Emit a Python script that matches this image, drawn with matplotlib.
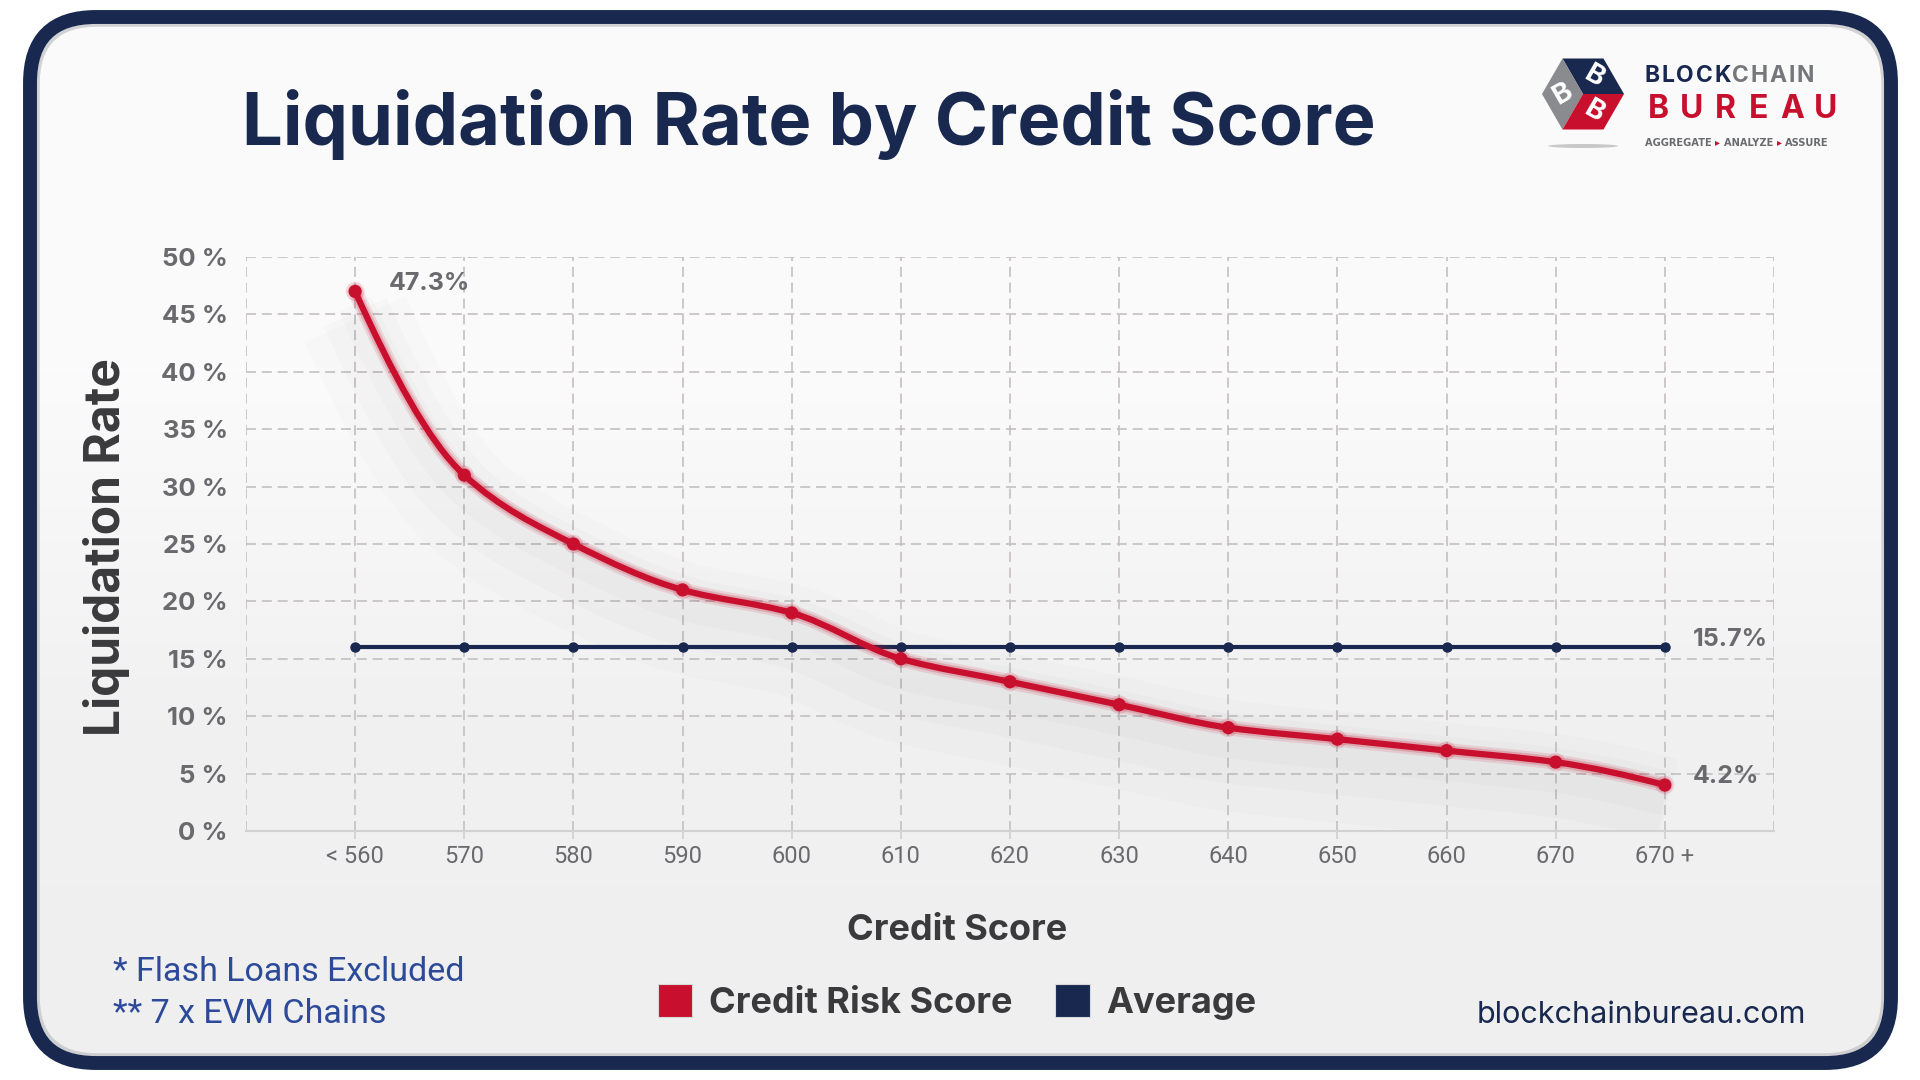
import numpy as np
import matplotlib
matplotlib.use("Agg")
import matplotlib.pyplot as plt
import matplotlib.patheffects as pe
from matplotlib.patches import FancyBboxPatch, Polygon, Rectangle, PathPatch, Ellipse
from matplotlib.path import Path

# data
categories = ["< 560", "570", "580", "590", "600", "610", "620",
              "630", "640", "650", "660", "670", "670 +"]
risk_rate = [47, 31, 25, 21, 19, 15, 13, 11, 9, 8, 7, 6, 4]
average_rate = 16
first_label = "47.3%"
last_label = "4.2%"
average_label = "15.7%"
y_ticks = [0, 5, 10, 15, 20, 25, 30, 35, 40, 45, 50]

RED = "#C8102E"
NAVY = "#18284F"
GRID = "#C4C0C2"
TICK_GRAY = "#6A6A6E"
LABEL_DARK = "#3A3A3C"
NOTE_BLUE = "#2D4A9A"

W, H = 1920, 1080


def smooth_path(xs, ys):
    # monotone cubic (Fritsch-Carlson) tangents turned into bezier segments
    xs = np.asarray(xs, float)
    ys = np.asarray(ys, float)
    h = np.diff(xs)
    d = np.diff(ys) / h
    m = np.zeros(len(xs))
    m[0] = (3 * d[0] - d[1]) / 2
    m[-1] = (3 * d[-1] - d[-2]) / 2
    for k in range(1, len(xs) - 1):
        if d[k - 1] * d[k] <= 0:
            m[k] = 0
        else:
            m[k] = 2 / (1 / d[k - 1] + 1 / d[k])
    verts = [(xs[0], ys[0])]
    codes = [Path.MOVETO]
    for k in range(len(xs) - 1):
        verts.append((xs[k] + h[k] / 3, ys[k] + m[k] * h[k] / 3))
        verts.append((xs[k + 1] - h[k] / 3, ys[k + 1] - m[k + 1] * h[k] / 3))
        verts.append((xs[k + 1], ys[k + 1]))
        codes += [Path.CURVE4] * 3
    return Path(verts, codes)


fig = plt.figure(figsize=(19.2, 10.8), dpi=100)
fig.patch.set_facecolor("white")

# background layer in pixel coordinates
bg = fig.add_axes([0, 0, 1, 1])
bg.set_xlim(0, W)
bg.set_ylim(H, 0)
bg.axis("off")

frame = FancyBboxPatch((30, 17), 1861, 1046,
                       boxstyle="round,pad=0,rounding_size=66",
                       facecolor="none", edgecolor=NAVY, lw=10, zorder=5)
inner = FancyBboxPatch((37, 24), 1847, 1032,
                       boxstyle="round,pad=0,rounding_size=60",
                       facecolor="#F3F3F3", edgecolor="none", zorder=1)
bg.add_patch(inner)
grad = np.linspace(0, 1, 256).reshape(-1, 1)
img = bg.imshow(grad, extent=(37, 1884, 1056, 24), cmap=matplotlib.colors.LinearSegmentedColormap.from_list(
    "bgfade", ["#FAFAFA", "#FBFBFB", "#F1F1F1", "#EFEFEF"]), aspect="auto", zorder=2)
img.set_clip_path(inner)
shade = FancyBboxPatch((38, 25), 1845, 1030,
                       boxstyle="round,pad=0,rounding_size=59",
                       facecolor="none", edgecolor="#B8B8BC", lw=2.5, alpha=0.6, zorder=4)
bg.add_patch(shade)
bg.add_patch(frame)

# title
bg.text(242, 145, "Liquidation Rate by Credit Score", family="Inter", weight="bold",
        fontsize=52, color=NAVY, va="baseline", ha="left", zorder=6)

# logo: cube icon
cx, cy, r = 1583, 94, 41
ang = np.deg2rad([0, 60, 120, 180, 240, 300])
hexv = [(cx + r * np.cos(a), cy - r * np.sin(a)) for a in ang]
faces = [
    ([(cx, cy), hexv[0], hexv[1], hexv[2]], NAVY, -30),
    ([(cx, cy), hexv[2], hexv[3], hexv[4]], "#8A8B8F", 30),
    ([(cx, cy), hexv[4], hexv[5], hexv[0]], RED, -30),
]
for pts, col, rot in faces:
    bg.add_patch(Polygon(pts, closed=True, facecolor=col, edgecolor="none", zorder=6))
    mx = np.mean([p[0] for p in pts])
    my = np.mean([p[1] for p in pts])
    bg.text(mx, my, "B", family="Inter", weight="bold", fontsize=20, color="white",
            ha="center", va="center", rotation=rot, zorder=7)
bg.add_patch(Ellipse((1583, 146), 70, 4, facecolor="#C8C8C8", edgecolor="none", zorder=6))

renderer = fig.canvas.get_renderer()


def text_right(t):
    bb = t.get_window_extent(renderer=renderer)
    return bb.x1


x0 = 1645
for word, col in [("BLOCK", NAVY), ("CHAIN", "#76777B")]:
    for ch in word:
        t = bg.text(x0, 76, ch, family="Inter", weight="bold", fontsize=16.5,
                    color=col, va="center", ha="left", zorder=6)
        x0 = text_right(t) + 1.6
for i, ch in enumerate("BUREAU"):
    bg.text(1658 + i * 33.5, 110, ch, family="Inter", weight="bold", fontsize=23,
            color=RED, va="center", ha="center", zorder=6)
x0 = 1645
for word, col in [("AGGREGATE ", "#6A6B6F"), ("\u25B8 ", RED), ("ANALYZE ", "#6A6B6F"),
                  ("\u25B8 ", RED), ("ASSURE", "#6A6B6F")]:
    t = bg.text(x0, 143, word, family="DejaVu Sans", weight="bold", fontsize=7.1,
                color=col, va="center", ha="left", zorder=6)
    x0 = text_right(t)

# chart axes
ax = fig.add_axes([246 / W, 1 - 831 / H, (1774 - 246) / W, (831 - 257) / H])
ax.set_facecolor("none")
x = np.arange(len(categories))
ax.set_xlim(-1, len(categories))
ax.set_ylim(0, 50)

ax.grid(True, linestyle=(0, (6, 3.5)), color=GRID, lw=1.2)
ax.set_axisbelow(True)
ax.axvline(-1, linestyle=(0, (6, 3.5)), color=GRID, lw=1.2, zorder=0.5)
ax.axvline(len(categories), linestyle=(0, (6, 3.5)), color=GRID, lw=1.2, zorder=0.5)
for s in ["top", "left", "right"]:
    ax.spines[s].set_visible(False)
ax.spines["bottom"].set_color("#D2D2D2")
ax.spines["bottom"].set_linewidth(1.5)

ax.set_xticks(x)
ax.set_xticklabels(categories, family="Roboto", fontsize=17, color=TICK_GRAY)
ax.tick_params(axis="x", length=6, color="#CFCFCF", width=1.2, pad=4)
ax.set_yticks(y_ticks)
ax.set_yticklabels([f"{v} %" for v in y_ticks], family="Inter", weight="bold",
                   fontsize=18.5, color=TICK_GRAY)
ax.tick_params(axis="y", length=0, pad=13)

# red curve with soft shadow and glow
curve = smooth_path(x, risk_rate)
shadow = PathPatch(curve, facecolor="none", edgecolor="none", lw=0, zorder=1)
shadow.set_path_effects([
    pe.SimpleLineShadow(offset=(0, -20), shadow_color="#000000", alpha=0.012, linewidth=80),
    pe.SimpleLineShadow(offset=(0, -15), shadow_color="#000000", alpha=0.014, linewidth=50),
    pe.SimpleLineShadow(offset=(0, -9), shadow_color="#000000", alpha=0.016, linewidth=26),
])
ax.add_patch(shadow)
line = PathPatch(curve, facecolor="none", edgecolor=RED, lw=4.5, capstyle="round",
                 joinstyle="round", zorder=4)
line.set_path_effects([
    pe.Stroke(linewidth=11, foreground=RED, alpha=0.12),
    pe.Stroke(linewidth=7.5, foreground=RED, alpha=0.2),
    pe.Normal(),
])
ax.add_patch(line)
ax.plot(x, risk_rate, linestyle="none", marker="o", ms=8.5, color=RED, zorder=5,
        path_effects=[pe.Stroke(linewidth=5, foreground=RED, alpha=0.15), pe.Normal()])

# average line
ax.plot(x, [average_rate] * len(x), color=NAVY, lw=3, marker="o", ms=6.5, zorder=3)

label_kw = dict(textcoords="offset pixels", family="Inter", weight="bold",
                fontsize=18, color=TICK_GRAY, ha="left", va="center")
ax.annotate(first_label, (x[0], risk_rate[0]), xytext=(34, 8), **label_kw)
ax.annotate(average_label, (x[-1], average_rate), xytext=(28, 8), **label_kw)
ax.annotate(last_label, (x[-1], risk_rate[-1]), xytext=(28, 9), **label_kw)

# axis titles
bg.text(107, 547, "Liquidation Rate", family="Inter", weight="bold", fontsize=34.5,
        color=LABEL_DARK, rotation=90, ha="center", va="center", zorder=6)
bg.text(957, 931, "Credit Score", family="Inter", weight="bold", fontsize=26,
        color=LABEL_DARK, ha="center", va="center", zorder=6)

# legend
handles = [Rectangle((0, 0), 1, 1, facecolor=RED, edgecolor="#D8D8D8", lw=0.8),
           Rectangle((0, 0), 1, 1, facecolor=NAVY, edgecolor="#D8D8D8", lw=0.8)]
leg = fig.legend(handles, ["Credit Risk Score", "Average"], loc="center",
                 bbox_to_anchor=(957 / W, 1 - 1002 / H), ncol=2, frameon=False,
                 handlelength=0.95, handleheight=1.05, handletextpad=0.45,
                 columnspacing=1.2, prop={"family": "Inter", "weight": "bold", "size": 26})
for t in leg.get_texts():
    t.set_color(LABEL_DARK)

# footnotes and url
bg.text(113, 972, "* Flash Loans Excluded", family="Roboto", fontsize=24.5,
        color=NOTE_BLUE, ha="left", va="center", zorder=6)
bg.text(113, 1014, "** 7 x EVM Chains", family="Roboto", fontsize=24.5,
        color=NOTE_BLUE, ha="left", va="center", zorder=6)
bg.text(1806, 1015, "blockchainbureau.com", family="Inter", fontsize=22,
        color=NAVY, ha="right", va="center", zorder=6)

fig.savefig("out.png", dpi=100, facecolor="white")
